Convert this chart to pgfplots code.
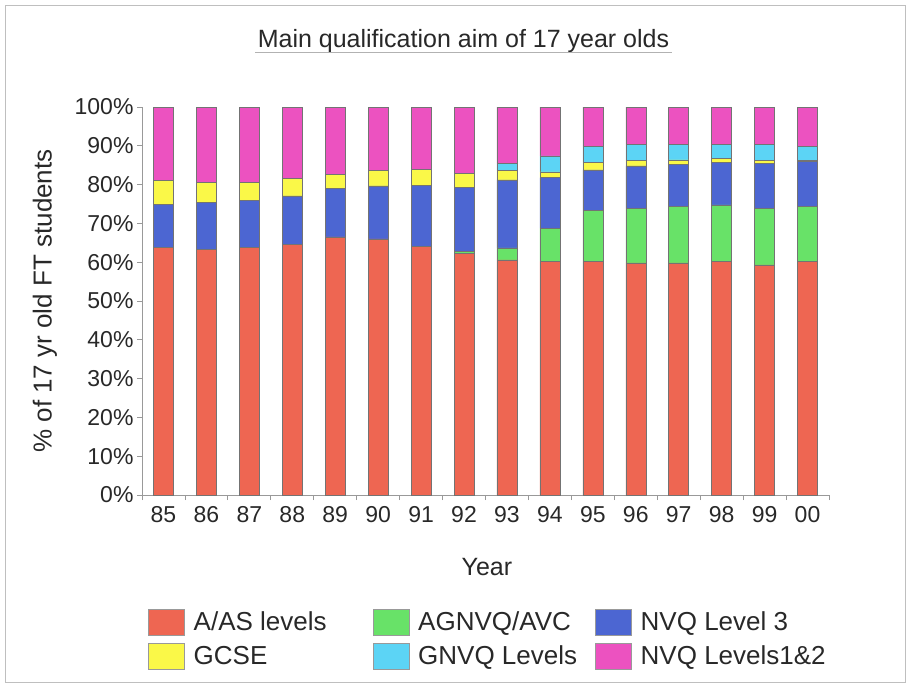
\documentclass[border=0pt]{standalone}
\usepackage{pgfplots}
\pgfplotsset{compat=1.18}
\usepackage{pgfplotstable}
\usepackage{fontspec}
\setmainfont{Liberation Sans}
\definecolor{cAAS}{RGB}{238,102,82}
\definecolor{cAGN}{RGB}{104,226,104}
\definecolor{cNV3}{RGB}{76,102,210}
\definecolor{cGCS}{RGB}{250,248,72}
\definecolor{cGNV}{RGB}{92,212,245}
\definecolor{cN12}{RGB}{236,82,192}
\definecolor{txt}{RGB}{40,40,40}
\pgfplotstableread{
x red green blue yellow cyan magenta
0 63.8 0 11.2 6.1 0 18.9
1 63.4 0 12.1 5.1 0 19.4
2 63.9 0 12.1 4.6 0 19.4
3 64.6 0 12.5 4.6 0 18.3
4 66.5 0 12.6 3.6 0 17.3
5 66.0 0 13.7 4.0 0 16.3
6 64.0 0 15.8 4.1 0 16.1
7 62.2 0.5 16.6 3.6 0 17.1
8 60.6 3.1 17.5 2.5 1.7 14.6
9 60.2 8.6 13.0 1.5 4.1 12.6
10 60.2 13.1 10.5 2.0 4.1 10.1
11 59.8 14.0 11.0 1.5 4.0 9.7
12 59.8 14.5 11.0 1.1 4.0 9.6
13 60.2 14.6 11.0 0.9 3.7 9.6
14 59.3 14.5 11.7 0.8 4.1 9.6
15 60.2 14.1 11.7 0.2 3.6 10.2
}\datatable
\begin{document}
\begin{tikzpicture}
\path[use as bounding box] (0pt,0pt) rectangle (910pt,-690pt);
\draw[black!25, line width=1pt] (5pt,-6pt) rectangle (905pt,-682pt);
\node[anchor=base, text=txt, font=\fontsize{25}{30}\selectfont] at (463.5pt,-48pt) {Main qualification aim of 17 year olds};
\draw[black!30, line width=0.8pt] (255pt,-52.5pt) -- (672pt,-52.5pt);
\begin{axis}[
  at={(142pt,-495pt)}, anchor=south west,
  scale only axis, width=687pt, height=388pt,
  ybar stacked, bar width=20pt,
  xmin=-0.5, xmax=15.5, ymin=0, ymax=100,
  axis x line*=bottom, axis y line*=left,
  axis line style={black!40, line width=0.8pt},
  every tick/.style={black!40, line width=0.8pt},
  tick align=outside,
  xtick={0,...,15},
  xticklabels={85,86,87,88,89,90,91,92,93,94,95,96,97,98,99,00},
  major x tick style={draw=none},
  minor xtick={-0.5,0.5,...,15.5},
  minor tick length=5pt,
  ytick={0,10,...,100},
  major tick length=5pt,
  /pgf/number format/assume math mode=true,
  yticklabel={\pgfmathprintnumber{\tick}\%},
  ticklabel style={text=txt, font=\fontsize{23}{27}\selectfont},
  xticklabel style={yshift=-3pt},
  ylabel={\% of 17 yr old FT students},
  ylabel style={at={(axis description cs:-0.1412,0.5)}, anchor=center, text=txt, font=\fontsize{26}{31}\selectfont},
  xlabel={Year},
  xlabel style={at={(axis description cs:0.502,-0.1856)}, anchor=center, text=txt, font=\fontsize{25}{30}\selectfont},
  every axis plot/.append style={draw=black!55, line width=0.5pt},
  legend columns=3,
  legend cell align=left,
  legend style={at={(axis description cs:0.0044,-0.287)}, anchor=north west, draw=none, fill=none,
    font=\fontsize{26}{31}\selectfont, text=txt,
    nodes={inner sep=3pt}, column sep=6pt, row sep=8pt},
  legend image code/.code={\draw[#1, draw=black!40, line width=0.5pt] (0pt,-13pt) rectangle (36pt,13pt);},
]
\addplot[fill=cAAS] table[x=x,y=red] {\datatable};
\addplot[fill=cAGN] table[x=x,y=green] {\datatable};
\addplot[fill=cNV3] table[x=x,y=blue] {\datatable};
\addplot[fill=cGCS] table[x=x,y=yellow] {\datatable};
\addplot[fill=cGNV] table[x=x,y=cyan] {\datatable};
\addplot[fill=cN12] table[x=x,y=magenta] {\datatable};
\legend{\makebox[170pt][l]{A/AS levels},\makebox[168pt][l]{AGNVQ/AVC},NVQ Level 3,GCSE,GNVQ Levels,NVQ Levels1\&2}
\end{axis}
\end{tikzpicture}
\end{document}
